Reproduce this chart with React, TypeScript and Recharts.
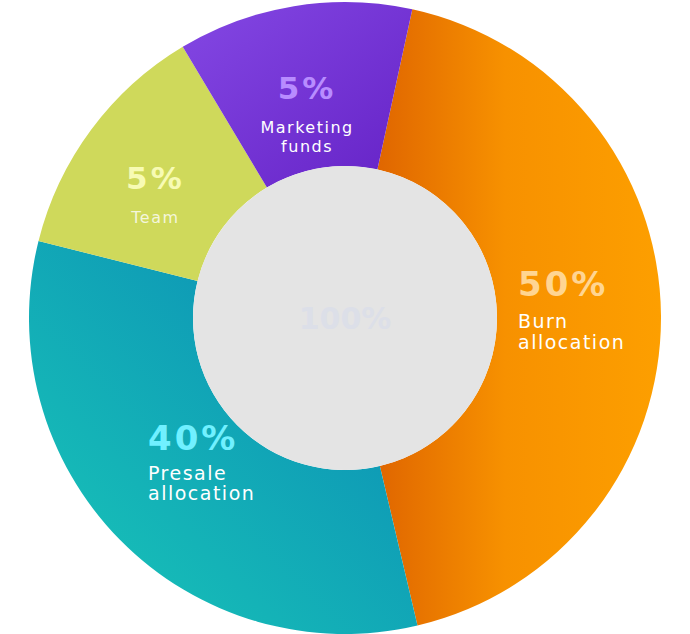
import { PieChart, Pie, Cell } from "recharts";

// slice order runs clockwise from just right of 12 o'clock
const categories = ["Burn allocation", "Presale allocation", "Team", "Marketing funds"];
const percentLabels = ["50%", "40%", "5%", "5%"];
// arc shares as drawn in the picture (degrees / 3.6)
const sliceShares = [42.9, 32.6, 12.5, 12.0];
const centerLabel = "100%";

const fills = ["url(#gBurn)", "url(#gPresale)", "#cfd95b", "url(#gMarketing)"];
const percentColors = ["#ffd592", "#70f0ff", "#f7fbb4", "#b88cff"];
const textColors = ["#ffffff", "#ffffff", "#f4f6dc", "#ffffff"];

// where each label block sits relative to its slice's mid angle
const labelLayout = [
  { r: 225, dx: -52, anchor: "start", ys: [-20, 12, 33] },
  { r: 205, dx: -51, anchor: "start", ys: [-12, 18, 38] },
  { r: 215, dx: -17, anchor: "middle", ys: [-1, 33] },
  { r: 210, dx: -4, anchor: "middle", ys: [-12, 22, 41] },
];

const data = categories.map((name, i) => ({ name, value: sliceShares[i], pct: percentLabels[i] }));
const hole = [{ name: "total", value: 1 }];

const FONT = '"DejaVu Sans", sans-serif';
const RAD = Math.PI / 180;

const renderLabel = (props: any) => {
  const { cx, cy, midAngle, index } = props;
  const lay = labelLayout[index];
  const x = cx + lay.r * Math.cos(-midAngle * RAD) + lay.dx;
  const y = cy + lay.r * Math.sin(-midAngle * RAD);
  const words = categories[index].split(" ");
  const big = index < 2 ? 34 : 31;
  const small = index < 2 ? 19 : 16;
  return (
    <g>
      <text
        x={x}
        y={y + lay.ys[0]}
        textAnchor={lay.anchor}
        fill={percentColors[index]}
        fontFamily={FONT}
        fontWeight={700}
        fontSize={big}
        letterSpacing={3}
      >
        {percentLabels[index]}
      </text>
      {words.map((w, k) => (
        <text
          key={k}
          x={x}
          y={y + lay.ys[k + 1]}
          textAnchor={lay.anchor}
          fill={textColors[index]}
          fontFamily={FONT}
          fontSize={small}
          letterSpacing={1.5}
        >
          {w}
        </text>
      ))}
    </g>
  );
};

const renderCenter = (props: any) => (
  <text
    x={props.cx}
    y={props.cy + 11}
    textAnchor="middle"
    fill="#dcdfe8"
    fontFamily={FONT}
    fontWeight={700}
    fontSize={30}
  >
    {centerLabel}
  </text>
);

export default function App() {
  return (
    <div style={{ position: "absolute", left: 0, top: 0, width: 690, height: 634, background: "#fff" }}>
      <PieChart width={690} height={634} margin={{ top: 0, right: 0, bottom: 0, left: 0 }}>
        <defs>
          <linearGradient id="gBurn" x1="0" y1="0" x2="1" y2="0">
            <stop offset="0%" stopColor="#e06600" />
            <stop offset="45%" stopColor="#f79100" />
            <stop offset="100%" stopColor="#fd9f00" />
          </linearGradient>
          <linearGradient id="gPresale" x1="1" y1="0" x2="0" y2="1">
            <stop offset="0%" stopColor="#0a86b5" />
            <stop offset="100%" stopColor="#19c9b8" />
          </linearGradient>
          <linearGradient id="gMarketing" x1="0" y1="0" x2="1" y2="1">
            <stop offset="0%" stopColor="#8448e4" />
            <stop offset="100%" stopColor="#6522c6" />
          </linearGradient>
        </defs>
        <Pie
          data={data}
          dataKey="value"
          nameKey="name"
          cx={345}
          cy={318}
          innerRadius={152}
          outerRadius={316}
          startAngle={77.7}
          endAngle={-282.3}
          stroke="none"
          labelLine={false}
          label={renderLabel}
          isAnimationActive={false}
        >
          {data.map((d, i) => (
            <Cell key={d.name} fill={fills[i]} />
          ))}
        </Pie>
        <Pie
          data={hole}
          dataKey="value"
          cx={345}
          cy={318}
          innerRadius={0}
          outerRadius={152}
          stroke="none"
          fill="#e4e4e4"
          labelLine={false}
          label={renderCenter}
          isAnimationActive={false}
        />
      </PieChart>
    </div>
  );
}
